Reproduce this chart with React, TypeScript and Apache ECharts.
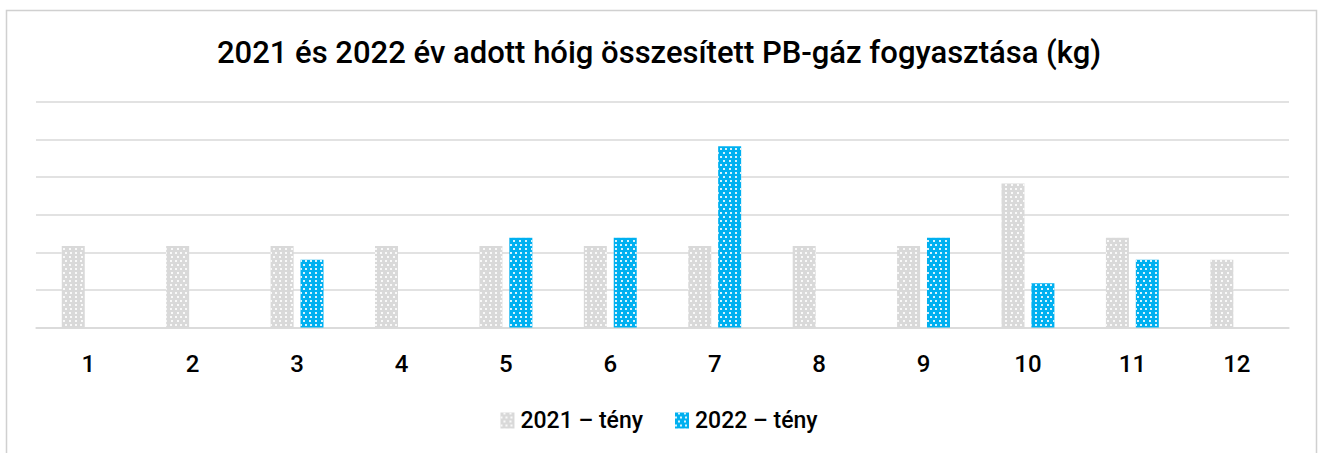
import React, { useEffect, useRef } from "react";
import * as echarts from "echarts";

const categories = ["1", "2", "3", "4", "5", "6", "7", "8", "9", "10", "11", "12"];
const series2021 = [2.17, 2.17, 2.17, 2.17, 2.17, 2.17, 2.17, 2.17, 2.17, 3.83, 2.39, 1.8];
const series2022: (number | null)[] = [null, null, 1.8, null, 2.39, 2.39, 4.82, null, 2.39, 1.18, 1.8, null];
const seriesNames = ["2021 – tény", "2022 – tény"];
const titleText = "2021 és 2022 év adott hóig összesített PB-gáz fogyasztása (kg)";

const FONT = "Roboto";

export default function App() {
  const ref = useRef<HTMLDivElement>(null);
  useEffect(() => {
    if (!ref.current) return;
    const chart = echarts.init(ref.current, null, { renderer: "svg" });
    const decal = {
      symbol: "rect",
      symbolSize: 1,
      color: "rgba(255,255,255,0.85)",
      dashArrayX: [[2, 3], [0, 2.5, 2, 0.5]],
      dashArrayY: [1.5, 1.5],
      rotation: 0,
    };
    chart.setOption({
      animation: false,
      backgroundColor: "#ffffff",
      title: {
        text: titleText,
        left: "center",
        top: 37,
        padding: 0,
        textStyle: { fontFamily: FONT, fontSize: 31, fontWeight: 500, color: "#000000" },
      },
      legend: {
        bottom: 16,
        left: "center",
        itemWidth: 14,
        itemHeight: 16,
        itemGap: 32,
        icon: "rect",
        textStyle: { fontFamily: FONT, fontSize: 23, fontWeight: 500, color: "#000000", padding: [0, 0, 0, 1] },
        data: seriesNames,
      },
      grid: { left: 36, right: 29, top: 102, bottom: 125.5, containLabel: false },
      xAxis: {
        type: "category",
        data: categories,
        axisLine: { show: true, lineStyle: { color: "#d9d9d9", width: 1.5 } },
        axisTick: { show: false },
        axisLabel: { fontFamily: FONT, fontSize: 24, fontWeight: 500, color: "#000000", margin: 24 },
      },
      yAxis: {
        type: "value",
        min: 0,
        max: 6,
        interval: 1,
        axisLabel: { show: false },
        axisLine: { show: false },
        axisTick: { show: false },
        splitLine: { lineStyle: { color: "#d9d9d9", width: 1.5 } },
      },
      graphic: [
        {
          type: "rect",
          shape: { x: 6.5, y: 10.5, width: 1310, height: 480 },
          style: { fill: "none", stroke: "#d0d0d0", lineWidth: 1.5 },
          silent: true,
        },
      ],
      series: [
        {
          name: seriesNames[0],
          type: "bar",
          data: series2021,
          barWidth: 23,
          barGap: "30%",
          itemStyle: { color: "#d9d9d9", decal },
        },
        {
          name: seriesNames[1],
          type: "bar",
          data: series2022,
          barWidth: 23,
          barGap: "30%",
          itemStyle: { color: "#00b0f0", decal },
        },
      ],
    });
    return () => chart.dispose();
  }, []);
  return (
    <div
      ref={ref}
      style={{ position: "absolute", left: 0, top: 0, width: 1318, height: 453 }}
    />
  );
}
